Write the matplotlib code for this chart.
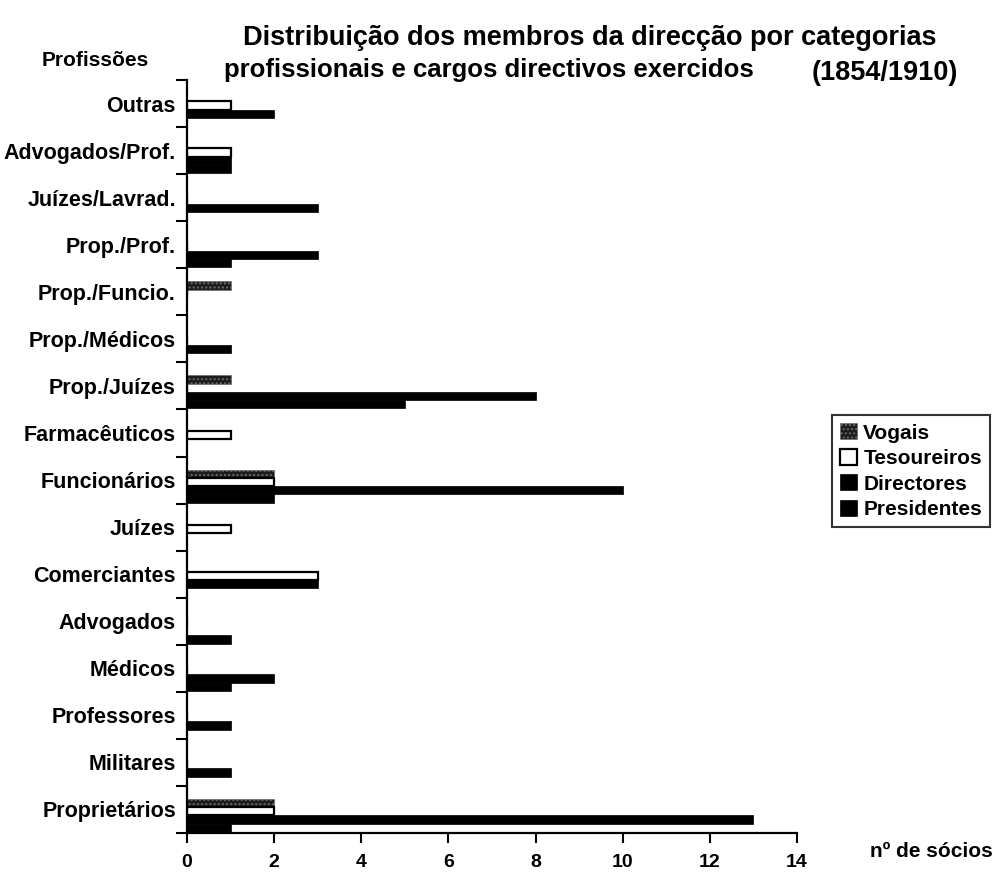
import numpy as np
import matplotlib
matplotlib.use("Agg")
import matplotlib.pyplot as plt

plt.rcParams['font.family'] = ['Liberation Sans Narrow', 'Liberation Sans', 'DejaVu Sans']
plt.rcParams['font.weight'] = 'bold'

# categorias profissionais (de baixo para cima)
profissoes = ['Proprietários', 'Militares', 'Professores', 'Médicos', 'Advogados',
              'Comerciantes', 'Juízes', 'Funcionários', 'Farmacêuticos',
              'Prop./Juízes', 'Prop./Médicos', 'Prop./Funcio.', 'Prop./Prof.',
              'Juízes/Lavrad.', 'Advogados/Prof.', 'Outras']

vogais      = [2, 0, 0, 0, 0, 0, 0, 2, 0, 1, 0, 1, 0, 0, 0, 0]
tesoureiros = [2, 0, 0, 0, 0, 3, 1, 2, 1, 0, 0, 0, 0, 0, 1, 1]
directores  = [13, 1, 1, 2, 0, 3, 0, 10, 0, 8, 1, 0, 3, 3, 1, 2]
presidentes = [1, 0, 0, 1, 1, 0, 0, 2, 0, 5, 0, 0, 1, 0, 1, 0]

series = ['Vogais', 'Tesoureiros', 'Directores', 'Presidentes']

fig = plt.figure(figsize=(10, 8.89), dpi=100)
ax = fig.add_axes([0.187, 0.063, 0.61, 0.847])

y = np.arange(len(profissoes))
h = 0.175
desvio = 0.135  # o grupo de barras fica um pouco abaixo do rótulo

estilos = [
    dict(color='#1c1c1c', edgecolor='#6a6a6a', hatch='....', linewidth=0.4),
    dict(color='white', edgecolor='black', linewidth=1.6),
    dict(color='black', edgecolor='black', linewidth=0.5),
    dict(color='black', edgecolor='black', linewidth=0.5),
]

for i, (nome, vals) in enumerate(zip(series, [vogais, tesoureiros, directores, presidentes])):
    ax.barh(y + desvio - i * h, vals, height=h, label=nome, **estilos[i])

ax.set_xlim(0, 14)
ax.set_ylim(-0.5, len(profissoes) - 0.5)
ax.set_xticks(range(0, 15, 2))
ax.tick_params(axis='x', length=7, width=1.5, labelsize=14, pad=8)

# marcas entre categorias, rótulos ao centro
ax.set_yticks(np.arange(-0.5, len(profissoes), 1.0))
ax.set_yticklabels([])
ax.set_yticks(y, minor=True)
ax.set_yticklabels(profissoes, minor=True, fontsize=15.5)
ax.tick_params(axis='y', which='major', length=8, width=1.5)
ax.tick_params(axis='y', which='minor', length=0, pad=8)

for s in ['top', 'right']:
    ax.spines[s].set_visible(False)
for s in ['left', 'bottom']:
    ax.spines[s].set_linewidth(1.6)

fig.text(0.59, 0.957, 'Distribuição dos membros da direcção por categorias',
         ha='center', va='center', fontsize=19.5)
fig.text(0.224, 0.921, 'profissionais e cargos directivos exercidos', ha='left',
         va='center', fontsize=18.5)
fig.text(0.958, 0.918, '(1854/1910)', ha='right', va='center', fontsize=19.5)
fig.text(0.042, 0.932, 'Profissões', ha='left', va='center', fontsize=15)
fig.text(0.87, 0.042, 'nº de sócios', ha='left', va='center', fontsize=15)

leg = fig.legend(loc='center left', bbox_to_anchor=(0.832, 0.47), fontsize=15,
                 frameon=True, fancybox=False, handlelength=0.8, handleheight=0.8,
                 handletextpad=0.3, borderpad=0.4, labelspacing=0.3,
                 borderaxespad=0)
leg.get_frame().set_edgecolor('black')
leg.get_frame().set_linewidth(1.5)

fig.savefig('out.png', dpi=100, facecolor='white')
